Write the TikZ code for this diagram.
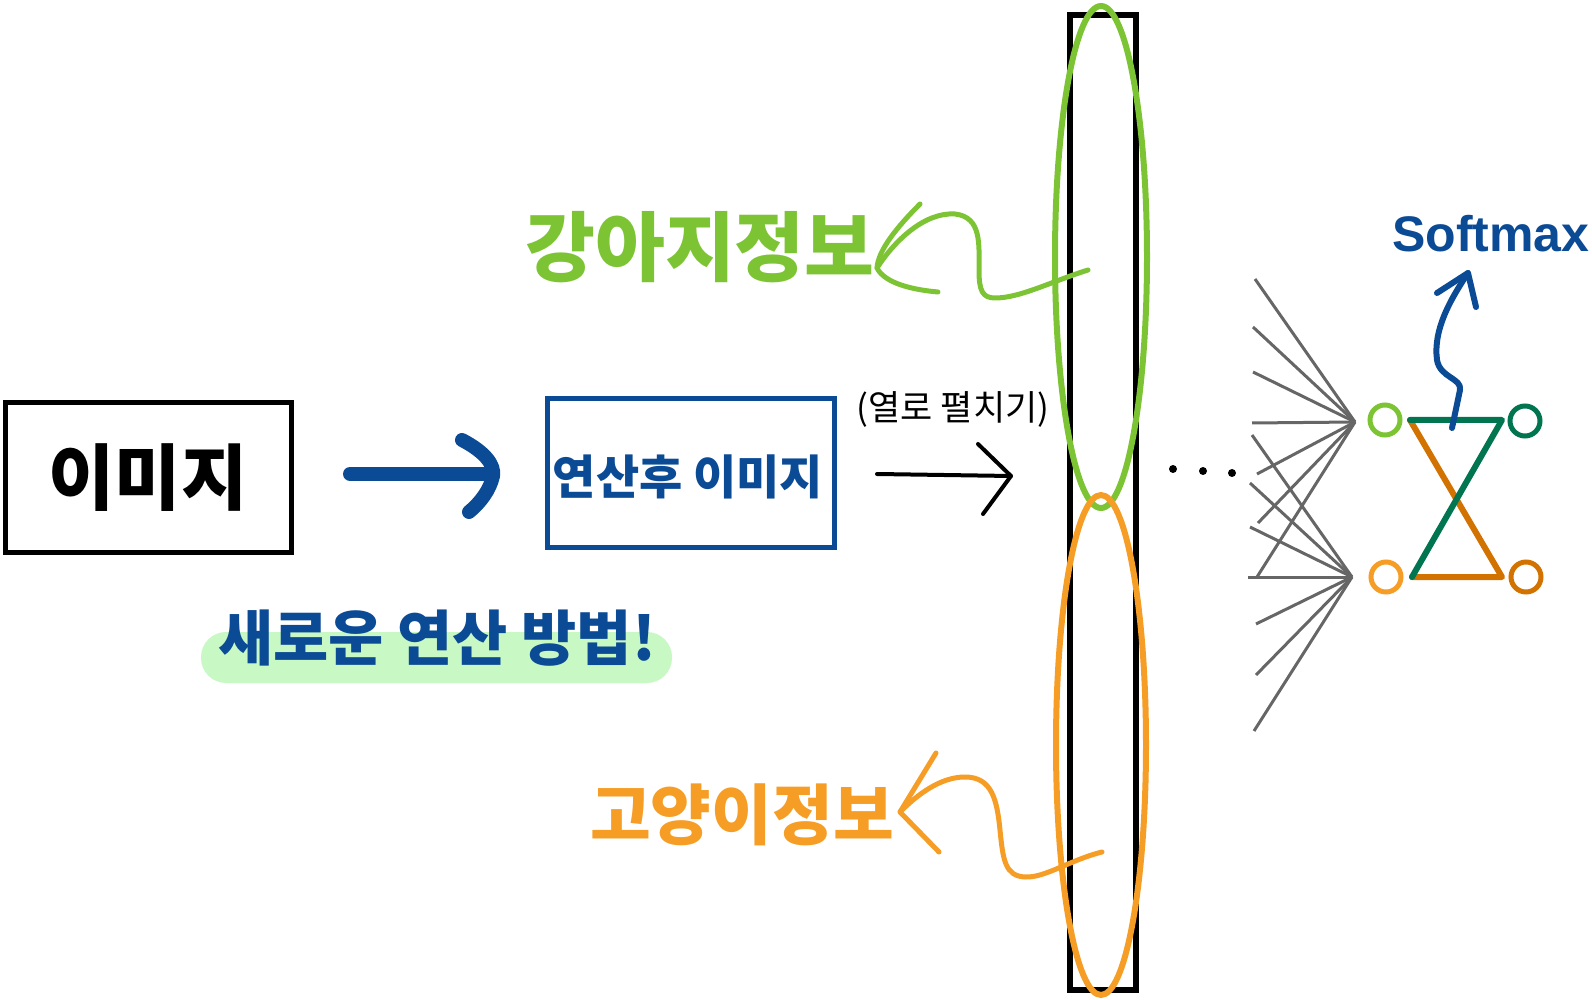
\documentclass[tikz,border=0pt]{standalone}
\usepackage{fontspec}
\newfontfamily\kr{Noto Sans CJK KR}
\newfontfamily\softf{Liberation Sans}
\usetikzlibrary{arrows.meta}
\definecolor{hblue}{HTML}{0B4A94}
\definecolor{lgreen}{HTML}{7DC435}
\definecolor{dgreen}{HTML}{007550}
\definecolor{lorange}{HTML}{F59D25}
\definecolor{dorange}{HTML}{D27200}
\definecolor{hilite}{HTML}{C8F8C3}
\definecolor{fangrey}{HTML}{666666}
\begin{document}
\begin{tikzpicture}[x=0.5pt,y=-0.5pt,
  every node/.style={inner sep=0pt},
  handline/.style={line width=2.5pt, line cap=round, line join=round},
  fanline/.style={draw=fangrey, line width=1.5pt},
  neuron/.style={circle, draw, line width=2.5pt, minimum size=15pt},
  netline/.style={line width=3pt, line cap=round, line join=round},
]
\useasboundingbox (0,0) rectangle (1592,1000);

% boxes
\node[draw=black, line width=2.5pt, minimum width=143pt, minimum height=74.5pt] (img) at (148,477.5)
  {\kr\bfseries\fontsize{36pt}{36pt}\selectfont 이미지};
\node[draw=hblue, line width=2.5pt, minimum width=143.5pt, minimum height=74pt] (conv) at (690.5,473) {};
\node[text=hblue] (convtxt) at (688,477)
  {\kr\bfseries\fontsize{23.5pt}{23.5pt}\selectfont 연산후 이미지};

% highlight and caption
\node[fill=hilite, rounded corners=12.5pt, minimum width=235.5pt, minimum height=25.5pt] (hl) at (436.5,657.5) {};
\node[text=hblue] (newop) at (437,638) {\kr\bfseries\fontsize{30pt}{30pt}\selectfont 새로운 연산 방법!};

% thick blue arrow
\coordinate (ba1) at (350,474);
\coordinate (ba2) at (493,474);
\draw[hblue, line width=7pt, line cap=round] (ba1) -- (ba2);
\draw[hblue, line width=7pt, line cap=round, line join=round]
  (462,440) .. controls (485,452) and (495,465) .. (493,476) .. controls (490,490) and (480,503) .. (469,512);

% black arrow and flatten label
\coordinate (ka1) at (877,474);
\coordinate (ka2) at (1011,476);
\draw[line width=2pt, line cap=round, line join=round] (ka1) -- (ka2);
\draw[line width=2pt, line cap=round, line join=round] (978,444) -- (ka2) -- (983,514);
\node (flat) at (953,409) {\kr\fontsize{17.5pt}{17.5pt}\selectfont (열로 펼치기)};

% flattened vector
\node[draw=black, line width=3pt, minimum width=33pt, minimum height=487pt] (vec) at (1102.5,502.5) {};

% ellipses
\draw[lgreen, line width=3pt] (1101,257) ellipse [x radius=46, y radius=251];
\draw[lorange, line width=3pt] (1101,745) ellipse [x radius=45, y radius=250];

% dog info
\node[text=lgreen] (dog) at (700,247) {\kr\bfseries\fontsize{38pt}{38pt}\selectfont 강아지정보};
\coordinate (dg0) at (1088,270);
\coordinate (dgt) at (877,268);
\draw[lgreen, handline] (dg0) .. controls (1050,282) and (1020,298) .. (995,298)
  .. controls (982,298) and (979,290) .. (979,270) .. controls (979,245) and (982,217) .. (955,214)
  .. controls (925,212) and (895,240) .. (dgt);
\draw[lgreen, handline] (920,204) .. controls (898,226) and (878,250) .. (dgt)
  .. controls (885,284) and (915,290) .. (938,292);

% cat info
\node[text=lorange] (cat) at (742,815) {\kr\bfseries\fontsize{33pt}{33pt}\selectfont 고양이정보};
\coordinate (ct0) at (1102,852);
\coordinate (ctt) at (900,812);
\draw[lorange, handline] (ct0) .. controls (1070,860) and (1045,878) .. (1025,877)
  .. controls (1005,876) and (1003,860) .. (1000,830) .. controls (997,800) and (992,777) .. (965,777)
  .. controls (940,777) and (917,795) .. (ctt);
\draw[lorange, handline] (936,753) -- (ctt) -- (939,852);

% dots
\node[circle, fill=black, minimum size=4pt] (d1) at (1173,469) {};
\node[circle, fill=black, minimum size=4pt] (d2) at (1203,471) {};
\node[circle, fill=black, minimum size=4pt] (d3) at (1232,473) {};

% fan lines
\coordinate (fu) at (1355,422);
\coordinate (fl) at (1352,577);
\foreach \i/\p in {1/{1255,279},2/{1253,327},3/{1253,372},4/{1252,423},5/{1257,474},6/{1258,523},7/{1257,577}}{
  \coordinate (u\i) at (\p);
  \draw[fanline] (u\i) -- (fu);
}
\foreach \i/\p in {1/{1252,435},2/{1250,483},3/{1250,527},4/{1248,577},5/{1256,624},6/{1256,675},7/{1254,731}}{
  \coordinate (l\i) at (\p);
  \draw[fanline] (l\i) -- (fl);
}

% output neurons
\node[neuron, draw=lgreen] (gA) at (1385,420) {};
\node[neuron, draw=dgreen] (gB) at (1525,421) {};
\node[neuron, draw=lorange] (oA) at (1386,577) {};
\node[neuron, draw=dorange] (oB) at (1526,577) {};
\coordinate (n1) at (1410,420);
\coordinate (n2) at (1502,420);
\coordinate (n3) at (1412,577);
\coordinate (n4) at (1502,577);
\draw[dorange, netline] (n1) -- (n4) -- (n3);
\draw[dgreen, netline] (n1) -- (n2) -- (n3);

% softmax
\node[text=hblue, anchor=east] (soft) at (1590,234) {\softf\bfseries\fontsize{25pt}{25pt}\selectfont Softmax};
\coordinate (s0) at (1452,428);
\coordinate (st) at (1468,273);
\draw[hblue, line width=3pt, line cap=round, line join=round] (s0) -- (1460,390)
  .. controls (1462,378) and (1440,378) .. (1437,360) .. controls (1433,330) and (1450,300) .. (st);
\draw[hblue, line width=3pt, line cap=round, line join=round] (1437,293) -- (st) -- (1476,307);
\end{tikzpicture}
\end{document}
